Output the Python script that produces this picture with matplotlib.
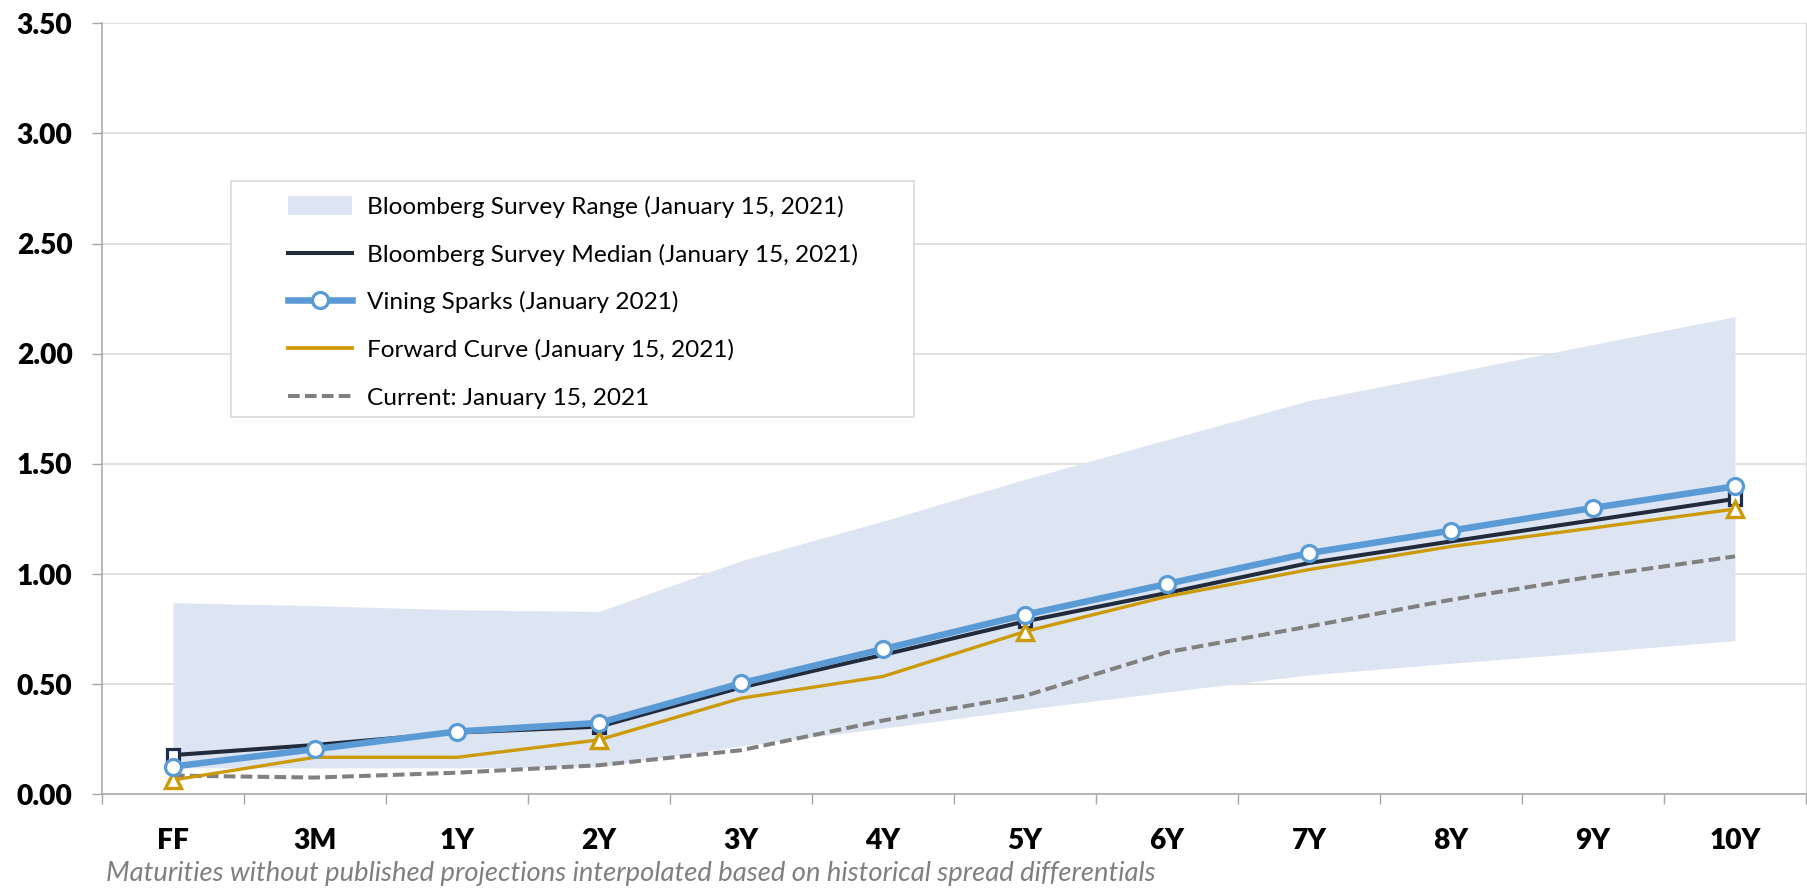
import matplotlib
matplotlib.use("Agg")
import matplotlib.pyplot as plt
from matplotlib.lines import Line2D
from matplotlib.patches import Patch, Rectangle
import numpy as np

plt.rcParams['font.family'] = ['Lato', 'DejaVu Sans']

# ---------------- data ----------------
categories = ["FF", "3M", "1Y", "2Y", "3Y", "4Y", "5Y", "6Y", "7Y", "8Y", "9Y", "10Y"]
range_high = [0.87, 0.856, 0.838, 0.83, 1.06, 1.24, 1.43, 1.61, 1.787, 1.913, 2.042, 2.168]
range_low = [0.12, 0.12, 0.12, 0.125, 0.22, 0.30, 0.385, 0.465, 0.542, 0.595, 0.645, 0.698]
median = [0.178, 0.224, 0.28, 0.307, 0.485, 0.633, 0.785, 0.914, 1.05, 1.148, 1.244, 1.341]
vining = [0.126, 0.205, 0.285, 0.324, 0.504, 0.659, 0.815, 0.955, 1.095, 1.197, 1.30, 1.398]
forward = [0.065, 0.168, 0.168, 0.247, 0.436, 0.535, 0.739, 0.898, 1.02, 1.125, 1.209, 1.295]
current = [0.085, 0.076, 0.098, 0.132, 0.20, 0.335, 0.447, 0.645, 0.762, 0.883, 0.989, 1.08]
published_idx = [0, 3, 6, 11]
y_ticks = [0.0, 0.5, 1.0, 1.5, 2.0, 2.5, 3.0, 3.5]

labels = ["Bloomberg Survey Range (January 15, 2021)",
          "Bloomberg Survey Median (January 15, 2021)",
          "Vining Sparks (January 2021)",
          "Forward Curve (January 15, 2021)",
          "Current: January 15, 2021"]
caption = "Maturities without published projections interpolated based on historical spread differentials"

# ---------------- style ----------------
C_FILL = '#DDE4F2'
C_MED = '#222B3B'
C_MED_EDGE = '#1F2D4D'
C_VIN = '#5B9BD5'
C_FWD = '#CC9A06'
C_CUR = '#808080'
C_GRID = '#D9D9D9'
C_SPINE = '#A6A6A6'
LW_MED, LW_VIN, LW_FWD, LW_CUR = 2.9, 4.7, 2.4, 2.9
DASH = (2.9, 1.3)

W, H = 1808, 891
fig = plt.figure(figsize=(W / 100, H / 100), dpi=100)
ax_left, ax_right, ax_top, ax_bot = 102, 1806, 23.3, 794.3
ax = fig.add_axes([ax_left / W, 1 - ax_bot / H, (ax_right - ax_left) / W, (ax_bot - ax_top) / H])

renderer = fig.canvas.get_renderer()


def fit_size(text, target_px, **kw):
    t = fig.text(0, 0, text, fontsize=10, **kw)
    w = t.get_window_extent(renderer).width
    t.remove()
    return 10 * target_px / w


x = np.arange(len(categories))

ax.fill_between(x, range_low, range_high, color=C_FILL, lw=0, zorder=1)
ax.plot(x, current, color=C_CUR, lw=LW_CUR, dashes=DASH, zorder=2)
ax.plot(x, median, color=C_MED, lw=LW_MED, zorder=3,
        marker='s', markevery=published_idx, ms=8.5, mfc='white', mec=C_MED_EDGE, mew=2.3)
ax.plot(x, forward, color=C_FWD, lw=LW_FWD, zorder=4,
        marker='^', markevery=published_idx, ms=11, mfc='white', mec=C_FWD, mew=2.4)
ax.plot(x, vining, color=C_VIN, lw=LW_VIN, zorder=5,
        marker='o', ms=11.5, mfc='white', mec=C_VIN, mew=2.3)

ax.set_xlim(-0.5, len(categories) - 0.5)
ax.set_ylim(0, 3.5)

tick_fs = fit_size("3.50", 56, fontweight='heavy')

ax.set_yticks(y_ticks)
ax.set_yticklabels([f"{v:.2f}" for v in y_ticks], fontsize=tick_fs, fontweight='heavy')
ax.set_xticks(x)
ax.set_xticklabels(categories, fontsize=tick_fs, fontweight='heavy')
ax.set_xticks(np.arange(-0.5, len(categories), 1.0), minor=True)
ax.tick_params(axis='x', which='major', length=0, pad=24)
ax.tick_params(axis='x', which='minor', length=7.2, width=1.0, color=C_SPINE, direction='out')
ax.tick_params(axis='y', which='major', length=7.2, width=1.0, color=C_SPINE, direction='out', pad=14)

ax.grid(axis='y', color=C_GRID, lw=1.1, zorder=0)
ax.set_axisbelow(True)
ax.spines['top'].set_visible(False)
ax.spines['right'].set_color(C_GRID)
ax.spines['right'].set_linewidth(1.0)
ax.spines['left'].set_color(C_SPINE)
ax.spines['bottom'].set_color(C_SPINE)
ax.spines['left'].set_linewidth(1.1)
ax.spines['bottom'].set_linewidth(1.1)

# ---------------- legend ----------------
handles = [
    Patch(facecolor=C_FILL, edgecolor='none'),
    Line2D([], [], color=C_MED, lw=LW_MED),
    Line2D([], [], color=C_VIN, lw=LW_VIN, marker='o', ms=11.5, mfc='white', mec=C_VIN, mew=2.3),
    Line2D([], [], color=C_FWD, lw=LW_FWD + 0.3),
    Line2D([], [], color=C_CUR, lw=LW_CUR, dashes=DASH),
]
leg_fs = fit_size(labels[1], 490)
leg_px = leg_fs * 100 / 72
box = Rectangle((231 / W, 1 - 417 / H), (914 - 231) / W, (417 - 181) / H,
                transform=fig.transFigure, facecolor='white', edgecolor=C_GRID, lw=1.2, zorder=4)
fig.add_artist(box)
leg = fig.legend(handles, labels, loc='upper left',
                 bbox_to_anchor=(288 / W, 1 - 196 / H), bbox_transform=fig.transFigure,
                 frameon=False, fontsize=leg_fs, borderpad=0, borderaxespad=0,
                 handlelength=64 / leg_px, handleheight=20 / leg_px,
                 handletextpad=15 / leg_px, labelspacing=1.05, numpoints=1)
leg.set_zorder(5)

# ---------------- caption ----------------
cap_fs = fit_size(caption, 1050, fontstyle='italic')
fig.text(106 / W, 1 - 873 / H, caption, fontsize=cap_fs, fontstyle='italic',
         color='#7F7F7F', ha='left', va='center')

fig.savefig("out.png", dpi=100)
